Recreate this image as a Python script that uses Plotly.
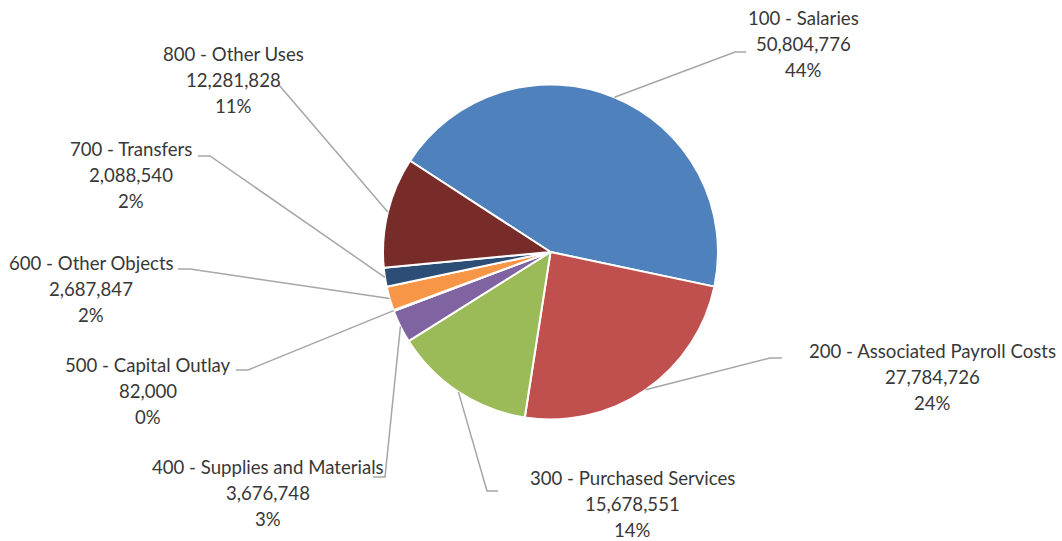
import math
import plotly.graph_objects as go

# ---- data ----
categories = [
    "100 - Salaries",
    "200 - Associated Payroll Costs",
    "300 - Purchased Services",
    "400 - Supplies and Materials",
    "500 - Capital Outlay",
    "600 - Other Objects",
    "700 - Transfers",
    "800 - Other Uses",
]
amounts = [50804776, 27784726, 15678551, 3676748, 82000, 2687847, 2088540, 12281828]
colors = ["#4F81BD", "#C0504D", "#9BBB59", "#8064A2", "#4BACC6", "#F79646", "#2C4D75", "#772C2A"]

# ---- layout constants (pixels) ----
W, H = 1062, 541
CX, CY, R = 550.5, 252.0, 167.5
ROT = -57.0
# label centre (x, middle-line y)
label_pos = [(803, 44), (932, 377), (632, 504), (268, 493), (148, 391), (91, 289), (131, 175), (233, 80)]
# leader line: elbow point, end point near label
leader_pts = [
    ((735, 52), (746, 52)),
    ((770, 358), (782, 358)),
    ((487, 491), (498, 491)),
    ((385, 477), (373, 477)),
    ((248, 370), (236, 370)),
    ((190, 269), (178, 269)),
    ((210, 156), (198, 156)),
    ((279, 85), (279, 85)),
]
LINE_GAP = 26
TEXT_COLOR = "#383838"
FONT = "Lato"
FONT_SIZE = 18.6


def px(x):
    return x / W


def py(y):
    return 1 - y / H


fig = go.Figure(
    go.Pie(
        labels=categories,
        values=amounts,
        sort=False,
        direction="clockwise",
        rotation=ROT,
        marker=dict(colors=colors, line=dict(color="white", width=2)),
        textinfo="none",
        hoverinfo="label+value+percent",
        domain=dict(x=[px(CX - R), px(CX + R)], y=[py(CY + R), py(CY - R)]),
        showlegend=False,
    )
)

total = sum(amounts)
cum = 0.0
shapes = []
annotations = []
for i, (cat, v) in enumerate(zip(categories, amounts)):
    mid = ROT + (cum + v / 2) / total * 360.0
    cum += v
    th = math.radians(mid)
    ex = CX + R * math.sin(th)
    ey = CY - R * math.cos(th)
    (bx, by), (tx, ty) = leader_pts[i]
    path = f"M {px(ex)},{py(ey)} L {px(bx)},{py(by)} L {px(tx)},{py(ty)}"
    shapes.append(dict(type="path", xref="paper", yref="paper", path=path,
                       line=dict(color="#A6A6A6", width=1.5)))
    pct = round(100 * v / total)
    lines = [cat, f"{v:,}", f"{pct}%"]
    lx, ly = label_pos[i]
    for k, t in enumerate(lines):
        annotations.append(dict(
            x=px(lx), y=py(ly + (k - 1) * LINE_GAP), xref="paper", yref="paper",
            text=t, showarrow=False, xanchor="center", yanchor="middle",
            font=dict(family=FONT, size=FONT_SIZE, color=TEXT_COLOR),
        ))

fig.update_layout(
    width=W, height=H,
    margin=dict(l=0, r=0, t=0, b=0),
    paper_bgcolor="white",
    plot_bgcolor="white",
    shapes=shapes,
    annotations=annotations,
)

fig.write_html("out.html")
